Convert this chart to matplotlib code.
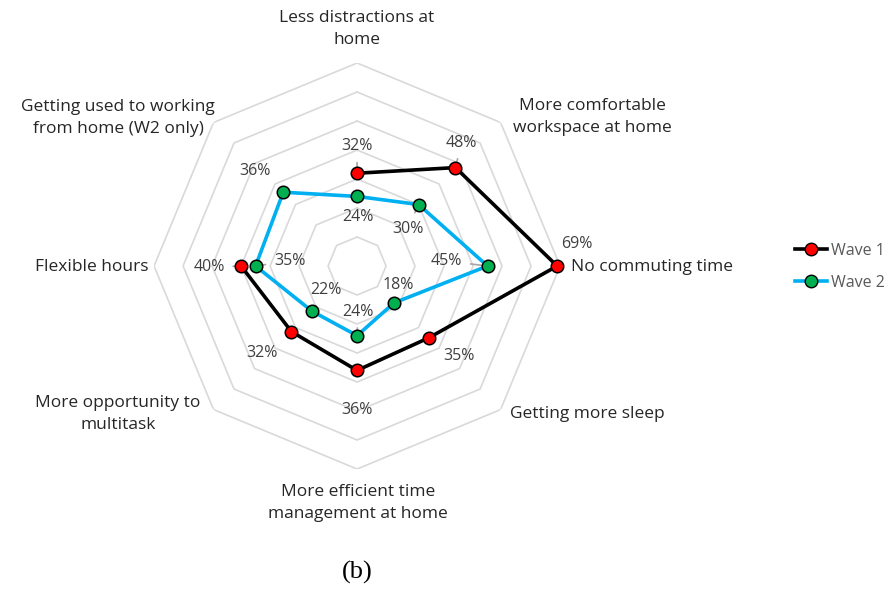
import matplotlib
matplotlib.use("Agg")
import matplotlib.pyplot as plt
import numpy as np
from matplotlib.lines import Line2D

# data (clockwise from top)
categories = ["Less distractions at\nhome",
              "More comfortable\nworkspace at home",
              "No commuting time",
              "Getting more sleep",
              "More efficient time\nmanagement at home",
              "More opportunity to\nmultitask",
              "Flexible hours",
              "Getting used to working\nfrom home (W2 only)"]
wave1 = [32, 48, 69, 35, 36, 32, 40, np.nan]
wave2 = [24, 30, 45, 18, 24, 22, 35, 36]
ring_levels = [10, 20, 30, 40, 50, 60, 70]

plt.rcParams['font.family'] = ['Open Sans', 'DejaVu Sans']

fig = plt.figure(figsize=(8.93, 5.89), dpi=100, facecolor='white')
ax = fig.add_axes([0.1725, 0.2037, 0.4547, 0.6893], projection='polar')
ax.set_theta_zero_location('N')
ax.set_theta_direction(-1)
ax.set_ylim(0, 70)
ax.axis('off')

n = len(categories)
ang = np.linspace(0, 2*np.pi, n, endpoint=False)
ang_c = np.append(ang, ang[0])

# octagon grid
for r in ring_levels:
    ax.plot(ang_c, [r]*(n+1), color='#d9d9d9', lw=1.2, zorder=1)

w1 = np.append(wave1, wave1[0])
w2 = np.append(wave2, wave2[0])
ax.plot(ang_c, w1, color='black', lw=2.6, zorder=3)
ax.plot(ang, wave1, 'o', ms=9, mfc='#ff0000', mec='black', mew=1.1, zorder=4, clip_on=False)
ax.plot(ang_c, w2, color='#00b0f0', lw=2.6, zorder=3)
ax.plot(ang, wave2, 'o', ms=9, mfc='#00b050', mec='black', mew=1.1, zorder=4, clip_on=False)

# data labels: offsets in pixels (dx, dy up), leader line flag
off1 = [(0, 27, True), (6, 25, True), (20, 22, False), (30, -18, False),
        (0, -40, False), (-29, -21, False), (-32, -1, True), None]
off2 = [(1, -21, False), (-11, -24, True), (-41, 5, True), (4, 18, False),
        (1, 24, True), (14, 21, True), (34, 5, True), (-28, 21, False)]

def label(vals, offs):
    for a, v, o in zip(ang, vals, offs):
        if o is None or np.isnan(v):
            continue
        dx, dy, lead = o
        ap = dict(arrowstyle='-', color='#a6a6a6', lw=1.2, shrinkA=4, shrinkB=2) if lead else None
        ax.annotate(f"{v:.0f}%", xy=(a, v), xytext=(dx, dy), textcoords='offset pixels',
                    ha='center', va='center', fontsize=11.5, color='#404040',
                    arrowprops=ap, zorder=2, annotation_clip=False)

label(wave1, off1)
label(wave2, off2)

# category labels (figure pixel positions)
cat_pos = [(357, 29, 'center'), (592, 117, 'center'), (571, 267, 'left'),
           (587, 414, 'center'), (358, 503, 'center'), (118, 414, 'center'),
           (92, 267, 'center'), (118, 118, 'center')]
for txt, (x, y, ha) in zip(categories, cat_pos):
    fig.text(x/893, 1 - y/589, txt, ha=ha, va='center', fontsize=12.5,
             color='#262626', linespacing=1.5)

# legend
h1 = Line2D([], [], color='black', lw=2.6, marker='o', ms=9, mfc='#ff0000', mec='black')
h2 = Line2D([], [], color='#00b0f0', lw=2.6, marker='o', ms=9, mfc='#00b050', mec='black')
leg = fig.legend([h1, h2], ["Wave 1", "Wave 2"], loc='center left',
                 bbox_to_anchor=(781/893, 1 - 267/589), frameon=False,
                 handlelength=2.0, labelspacing=1.0, handletextpad=0.2, fontsize=11.5)
for t in leg.get_texts():
    t.set_color('#595959')

fig.text(357/893, 1 - 572/589, "(b)", ha='center', va='center', fontsize=19,
         family='Liberation Serif', color='black')

fig.savefig("out.png", dpi=100, facecolor='white')
